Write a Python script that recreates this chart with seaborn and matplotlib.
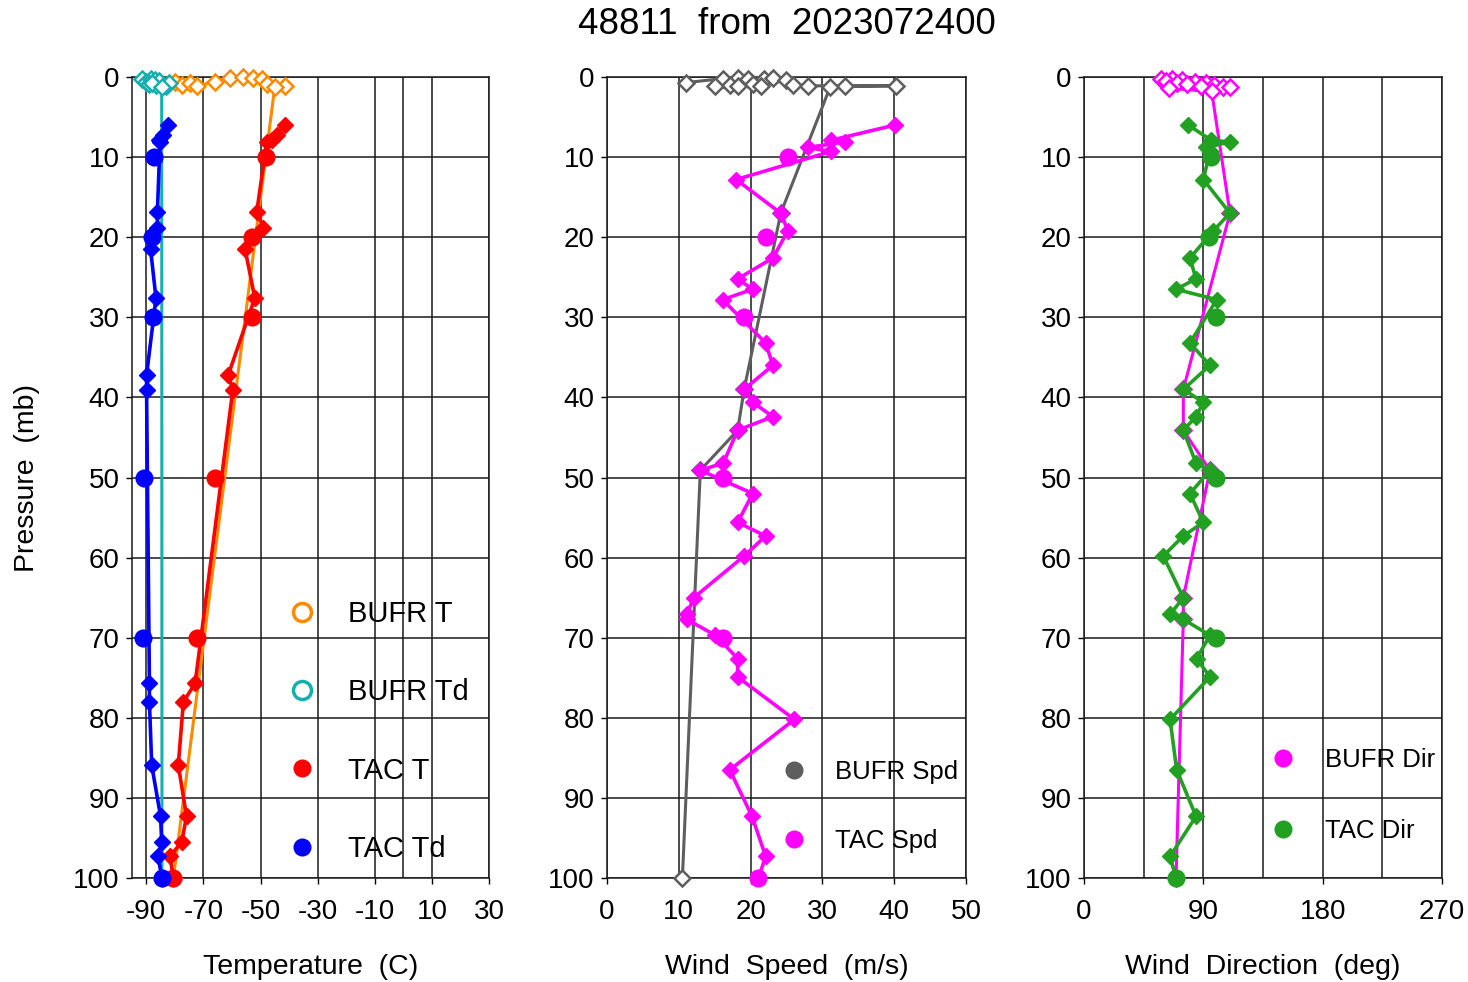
import numpy as np
import pandas as pd
import matplotlib
matplotlib.use('Agg')
import matplotlib.pyplot as plt
import seaborn as sns
from matplotlib.lines import Line2D
from matplotlib.ticker import MultipleLocator

# ---- BUFR profiles (pressure in mb) ----
bufr_t_p = [0.6, 1.0, 0.8, 1.1, 0.6, 0.1, 0.0, 0.1, 0.2, 0.9, 1.1, 1.2, 100]
bufr_t = [-80.0, -77.5, -74.7, -72.2, -66.0, -60.7, -56.0, -52.5, -49.6, -47.8, -41.4, -45.0, -80.5]

bufr_td_p = [0.3, 0.6, 0.2, 0.9, 0.4, 1.0, 0.5, 0.8, 1.1, 0.7, 1.2, 100]
bufr_td = [-91.5, -90.0, -88.5, -89.0, -87.0, -86.5, -85.5, -88.0, -83.0, -82.0, -84.6, -84.5]

bufr_spd_p = [0.7, 0.2, 1.1, 0.1, 1.0, 0.3, 1.1, 0.2, 0.9, 0.1, 1.1, 0.4, 1.0, 1.1, 1.1, 1.1, 1.2,
              17.0, 39.0, 44.1, 49.1, 100]
bufr_spd = [11.0, 16.1, 15.0, 18.2, 17.1, 19.6, 18.2, 21.9, 20.3, 23.1, 21.4, 24.9, 25.9, 28.0, 33.2, 40.3, 31.1,
            24.2, 19.1, 18.2, 13.0, 10.5]

bufr_dir_p = [0.2, 0.3, 0.4, 0.5, 0.6, 0.7, 0.8, 0.9, 1.0, 1.1, 1.2, 1.3, 1.4, 1.8,
              17.0, 39.0, 44.1, 49.1, 65.0, 67.7, 100]
bufr_dir = [58, 66, 74, 62, 84, 70, 92, 78, 98, 88, 105, 110, 64, 96.3,
            110.1, 74.9, 74.9, 95.0, 74.9, 74.9, 69.4]

# ---- TAC significant levels ----
tac_t_p = [6.0, 7.2, 7.9, 8.1, 16.8, 18.8, 21.5, 27.6, 37.2, 39.1, 75.7, 78.0, 85.9, 92.3, 95.5, 97.3, 100]
tac_t = [-41.4, -44.3, -46.1, -47.8, -51.3, -49.0, -55.4, -52.0, -61.3, -59.7, -72.9, -77.0, -78.8, -75.9, -77.6, -81.7, -80.5]
tac_td = [-82.3, -84.0, -85.5, -85.2, -86.1, -86.1, -88.5, -86.6, -89.9, -89.9, -88.9, -88.9, -88.1, -85.0, -84.6, -85.8, -84.6]

tac_w_p = [6.0, 7.9, 8.1, 8.8, 9.3, 12.8, 17.0, 19.2, 22.6, 25.2, 26.5, 27.8, 33.2, 36.0, 39.0, 40.6, 42.4, 44.1,
           48.2, 49.1, 52.0, 55.6, 57.3, 59.8, 65.0, 67.1, 67.7, 69.7, 72.6, 74.9, 80.2, 86.5, 92.3, 97.3, 100]
tac_spd = [40.1, 31.2, 33.1, 28.0, 31.2, 18.0, 24.2, 25.2, 23.1, 18.2, 20.3, 16.1, 22.1, 23.1, 19.1, 20.3, 23.1, 18.2,
           16.2, 13.0, 20.3, 18.2, 22.1, 19.1, 12.1, 11.1, 11.1, 15.1, 18.2, 18.2, 26.1, 17.1, 20.2, 22.1, 21.1]
tac_dir = [78.7, 96.0, 110.1, 92.0, 95.0, 90.0, 110.1, 97.5, 79.9, 84.5, 69.4, 100.1, 79.9, 95.0, 74.9, 90.0, 84.5, 74.9,
           84.5, 95.0, 79.9, 90.0, 74.9, 59.8, 74.9, 64.9, 74.9, 95.0, 85.0, 95.0, 64.9, 69.9, 84.5, 64.9, 69.4]

# ---- TAC standard levels ----
std_p = [10, 20, 30, 50, 70, 100]
std_t = [-48.0, -53.1, -53.1, -65.9, -72.1, -80.5]
std_td = [-87.2, -88.1, -87.5, -90.8, -91.0, -84.6]
std_spd = [25.2, 22.1, 19.1, 16.2, 16.2, 21.1]
std_dir = [95.5, 94.5, 99.6, 99.6, 99.6, 69.4]

c_bt, c_btd, c_tt, c_ttd = '#FF8A00', '#17AEB0', '#FF0000', '#0000FF'
c_bspd, c_tspd = '#5E5E5E', '#FF00FF'
c_bdir, c_tdir = '#FF00FF', '#22A022'

plt.rcParams['font.family'] = ['Liberation Sans', 'DejaVu Sans']
plt.rcParams['font.size'] = 20
plt.rcParams['axes.unicode_minus'] = False

fig = plt.figure(figsize=(14.68, 9.82), dpi=100)
bot, hgt = 1 - 878 / 982, 801 / 982
ax1 = fig.add_axes([132 / 1468, bot, 357 / 1468, hgt])
ax2 = fig.add_axes([607 / 1468, bot, 359 / 1468, hgt])
ax3 = fig.add_axes([1084 / 1468, bot, 358 / 1468, hgt])


def bufr_line(ax, x, y, c):
    sns.lineplot(x=x, y=y, ax=ax, sort=False, estimator=None, color=c, lw=2.2,
                 marker='D', markersize=8, markerfacecolor='white', markeredgecolor=c,
                 markeredgewidth=1.8, clip_on=False, zorder=3)


def tac_line(ax, x, y, c):
    sns.lineplot(x=x, y=y, ax=ax, sort=False, estimator=None, color=c, lw=2.6,
                 marker='D', markersize=8.5, markerfacecolor=c, markeredgecolor=c,
                 markeredgewidth=1, clip_on=False, zorder=4)


def tac_std(ax, x, y, c):
    sns.scatterplot(x=x, y=y, ax=ax, color=c, s=170, marker='o', linewidth=0,
                    clip_on=False, zorder=5)


def style(ax, xlim, xlabel):
    ax.set_ylim(100, 0)
    ax.set_xlim(*xlim)
    ax.yaxis.set_major_locator(MultipleLocator(10))
    ax.grid(True, which='both', color='#1A1A1A', lw=1.1)
    ax.set_axisbelow(True)
    ax.tick_params(which='major', direction='out', length=4, width=1, pad=5, labelsize=20)
    ax.tick_params(axis='x', which='major', pad=11)
    ax.tick_params(which='minor', length=0)
    for s in ax.spines.values():
        s.set_color('#1A1A1A')
        s.set_linewidth(1.1)
    ax.set_xlabel(xlabel, fontsize=20.5, labelpad=21)
    ax.set_ylabel('')


# Temperature panel
bufr_line(ax1, bufr_t, bufr_t_p, c_bt)
bufr_line(ax1, bufr_td, bufr_td_p, c_btd)
tac_line(ax1, tac_t, tac_t_p, c_tt)
tac_line(ax1, tac_td, tac_t_p, c_ttd)
tac_std(ax1, std_t, std_p, c_tt)
tac_std(ax1, std_td, std_p, c_ttd)
style(ax1, (-95, 30), 'Temperature  (C)')
ax1.set_xticks([-90, -70, -50, -30, -10, 10, 30])
ax1.axvline(0, color='#1A1A1A', lw=1.1, zorder=0.5)
ax1.set_ylabel('Pressure  (mb)', fontsize=20.5, labelpad=24)

# Wind speed panel
bufr_line(ax2, bufr_spd, bufr_spd_p, c_bspd)
tac_line(ax2, tac_spd, tac_w_p, c_tspd)
tac_std(ax2, std_spd, std_p, c_tspd)
style(ax2, (0, 50), 'Wind  Speed  (m/s)')
ax2.set_xticks([0, 10, 20, 30, 40, 50])

# Wind direction panel
bufr_line(ax3, bufr_dir, bufr_dir_p, c_bdir)
tac_line(ax3, tac_dir, tac_w_p, c_tdir)
tac_std(ax3, std_dir, std_p, c_tdir)
style(ax3, (0, 270), 'Wind  Direction  (deg)')
ax3.set_xticks([0, 90, 180, 270])
ax3.xaxis.set_minor_locator(MultipleLocator(45))


def open_h(c):
    return Line2D([], [], ls='', marker='o', markersize=13, markerfacecolor='white',
                  markeredgecolor=c, markeredgewidth=2.5)


def fill_h(c):
    return Line2D([], [], ls='', marker='o', markersize=13, markerfacecolor=c,
                  markeredgecolor=c, markeredgewidth=0)


ax1.legend([open_h(c_bt), open_h(c_btd), fill_h(c_tt), fill_h(c_ttd)],
           ['BUFR T', 'BUFR Td', 'TAC T', 'TAC Td'],
           loc='center left', bbox_to_anchor=(0.394, 0.183), frameon=False, fontsize=21,
           labelspacing=1.73, handlelength=2, handletextpad=0.575, borderpad=0, borderaxespad=0)
ax2.legend([fill_h(c_bspd), fill_h(c_tspd)], ['BUFR Spd', 'TAC Spd'],
           loc='center left', bbox_to_anchor=(0.449, 0.089), frameon=False, fontsize=18.5,
           labelspacing=1.75, handlelength=2, handletextpad=0.6, borderpad=0, borderaxespad=0)
ax3.legend([fill_h(c_bdir), fill_h(c_tdir)], ['BUFR Dir', 'TAC Dir'],
           loc='center left', bbox_to_anchor=(0.484, 0.103), frameon=False, fontsize=18.5,
           labelspacing=1.83, handlelength=2, handletextpad=0.63, borderpad=0, borderaxespad=0)

fig.text(787 / 1468, 1 - 24 / 982, '48811  from  2023072400', ha='center', va='center', fontsize=26.5)

fig.savefig('out.png', dpi=100)
